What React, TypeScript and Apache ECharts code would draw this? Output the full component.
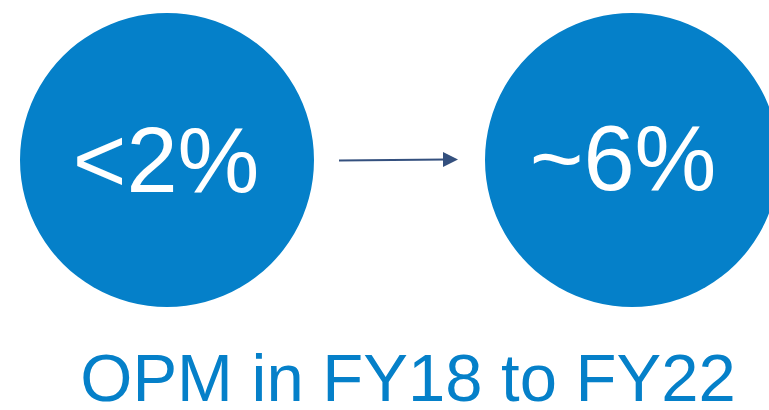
import React, { useEffect, useRef } from "react";
import * as echarts from "echarts";

const stages = ["FY18", "FY22"];
const stageValues = ["<2%", "~6%"];
const stagePositions = [0, 1];
const caption = "OPM in FY18 to FY22";

const BLUE = "#0580C9";
const ARROW = "#34507E";

export default function App() {
  const ref = useRef<HTMLDivElement>(null);
  useEffect(() => {
    if (!ref.current) return;
    const chart = echarts.init(ref.current, null, { renderer: "svg" });
    const labelOffsets = [
      [-1, 0],
      [-9, -2],
    ];
    chart.setOption({
      animation: false,
      backgroundColor: "#ffffff",
      grid: { left: 167, right: 137, top: 60, bottom: 150 },
      xAxis: { type: "value", min: 0, max: 1, show: false },
      yAxis: { type: "value", min: 0, max: 1, show: false },
      series: [
        {
          type: "scatter",
          symbol: "circle",
          symbolSize: 294,
          clip: false,
          itemStyle: { color: BLUE, opacity: 1 },
          silent: true,
          data: stages.map((s, i) => ({
            name: s,
            value: [stagePositions[i], 0.5],
            label: {
              show: true,
              position: "inside",
              formatter: stageValues[i],
              offset: labelOffsets[i],
              color: "#ffffff",
              fontSize: 92,
              fontFamily: "Liberation Sans, Arial, sans-serif",
            },
          })),
        },
      ],
      graphic: [
        {
          type: "line",
          shape: { x1: 339, y1: 160.5, x2: 446, y2: 159.5 },
          style: { stroke: ARROW, lineWidth: 2 },
        },
        {
          type: "polygon",
          shape: {
            points: [
              [443, 152],
              [458, 159.5],
              [443, 167],
            ],
          },
          style: { fill: ARROW },
        },
        {
          type: "text",
          x: 408,
          y: 377,
          style: {
            text: caption,
            fill: BLUE,
            fontSize: 67,
            fontFamily: "Liberation Sans, Arial, sans-serif",
            align: "center",
            verticalAlign: "middle",
          },
        },
      ],
    });
    return () => chart.dispose();
  }, []);
  return (
    <div
      ref={ref}
      style={{ position: "fixed", left: 0, top: 0, width: 769, height: 410 }}
    />
  );
}
